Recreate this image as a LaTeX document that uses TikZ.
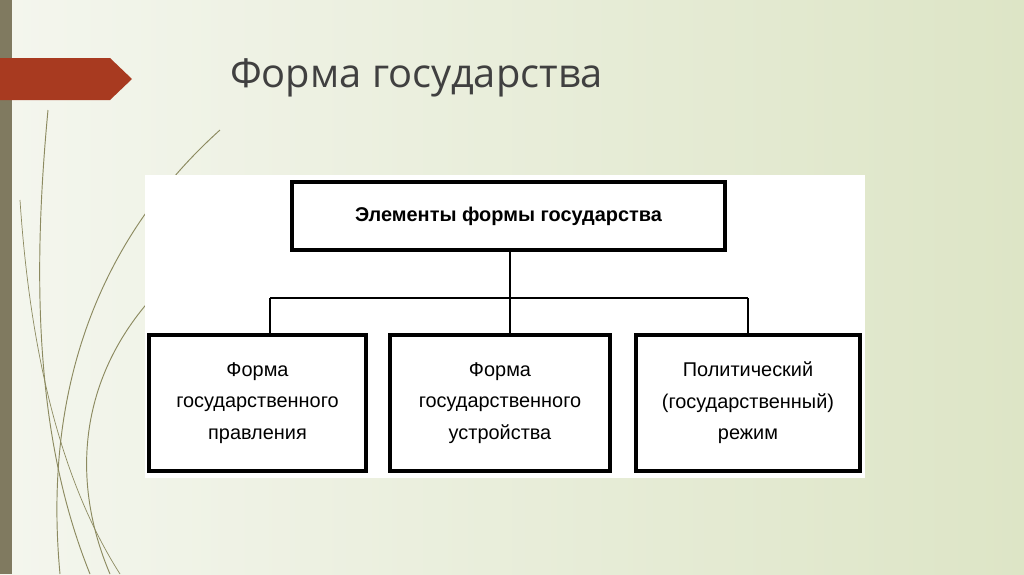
\documentclass[tikz,border=0pt]{standalone}
\usepackage{fontspec}
\setmainfont{Liberation Sans}
\newfontfamily\titlefont{Open Sans}
\definecolor{bgl}{HTML}{F4F6EE}
\definecolor{bgr}{HTML}{DDE5C6}
\definecolor{barc}{HTML}{807A60}
\definecolor{arr}{HTML}{A83A20}
\definecolor{curv}{HTML}{8C8A60}
\begin{document}
\begin{tikzpicture}[x=0.03cm,y=-0.03cm,
  box/.style={draw=black,line width=3.2pt,fill=white,align=center,inner sep=0pt,font=\fontsize{17}{27}\selectfont},
  conn/.style={draw=black,line width=1pt}]
\useasboundingbox (0,0) rectangle (1024,574);
\shade[left color=bgl, right color=bgr] (0,0) rectangle (1024,574);
\fill[barc] (0,0) rectangle (12,574);
\draw[curv,line width=0.8pt] (48,110) .. controls (30,300) and (40,450) .. (90,574);
\draw[curv,line width=0.8pt] (220,130) .. controls (120,220) and (40,360) .. (60,574);
\draw[curv,line width=0.8pt] (150,300) .. controls (80,380) and (70,480) .. (110,574);
\draw[curv,line width=0.6pt] (20,200) .. controls (30,350) and (60,480) .. (120,574);
\fill[arr] (0,58) -- (110,58) -- (132,79) -- (110,100) -- (0,100) -- cycle;
\node[anchor=west,font=\titlefont\fontsize{34}{40}\selectfont,text=black!75] (title) at (226,78) {Форма государства};
\fill[white] (145,175) rectangle (865,478);
\node[box,minimum width=437*0.03cm-3.2pt,minimum height=72*0.03cm-3.2pt,font=\bfseries\fontsize{17}{20}\selectfont] (top) at (508.5,216) {Элементы формы государства};
\node[box,minimum width=221*0.03cm-3.2pt,minimum height=140*0.03cm-3.2pt] (b1) at (257.5,403) {Форма\\государственного\\правления};
\node[box,minimum width=224*0.03cm-3.2pt,minimum height=140*0.03cm-3.2pt] (b2) at (500,403) {Форма\\государственного\\устройства};
\node[box,minimum width=228*0.03cm-3.2pt,minimum height=140*0.03cm-3.2pt] (b3) at (748,403) {Политический\\(государственный)\\режим};
\coordinate (j) at (510,298);
\draw[conn] (top.south -| j) -- (j);
\draw[conn] (270,298) -- (748,298);
\draw[conn] (270,298) -- (b1.north -| 270,0);
\draw[conn] (j) -- (b2.north -| j);
\draw[conn] (748,298) -- (b3.north);
\end{tikzpicture}
\end{document}
